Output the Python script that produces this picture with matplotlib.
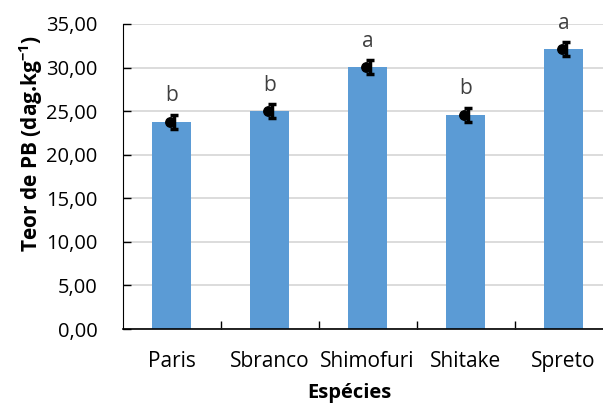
import matplotlib.pyplot as plt
import numpy as np

# Teor de proteína bruta por espécie
especies = ['Paris', 'Sbranco', 'Shimofuri', 'Shitake', 'Spreto']
teor_pb = [23.8, 25.0, 30.1, 24.6, 32.1]
erro = [0.8, 0.8, 0.8, 0.8, 0.8]
letras = ['b', 'b', 'a', 'b', 'a']
yticks = [0, 5, 10, 15, 20, 25, 30, 35]

plt.rcParams['font.family'] = ['Open Sans', 'DejaVu Sans']

fig = plt.figure(figsize=(6.03, 4.05), dpi=100)
ax = fig.add_axes([122.5 / 603, 1 - 329 / 405, 490 / 603, 305 / 405])

x = np.arange(len(especies))
ax.bar(x, teor_pb, width=0.4, color='#5b9bd5', zorder=2)
# barra de erro levemente deslocada, ponto da média à esquerda
ax.errorbar(x + 0.03, teor_pb, yerr=erro, fmt='none', ecolor='black',
            elinewidth=2.5, capsize=2.6, capthick=2.5, zorder=3)
ax.plot(x - 0.015, teor_pb, 'o', color='black', markersize=6.8, zorder=4)

for xi, v, e, l in zip(x, teor_pb, erro, letras):
    ax.annotate(l, (xi, v + e), xytext=(0, 9.5), textcoords='offset points',
                ha='center', va='baseline', fontsize=15, color='#404040')

ax.set_xlim(-0.5, len(especies) - 0.5)
ax.set_ylim(0, 35)
ax.set_yticks(yticks)
ax.set_yticklabels([f'{t:.2f}'.replace('.', ',') for t in yticks])
ax.set_xticks(x)
ax.set_xticklabels(especies)
ax.set_xticks(np.arange(len(especies) - 1) + 0.5, minor=True)
ax.tick_params(axis='y', direction='in', length=6, width=1, labelsize=14.5, pad=18)
ax.tick_params(axis='x', which='major', length=0, labelsize=15, pad=16)
ax.tick_params(axis='x', which='minor', direction='in', length=6, width=1)

ax.grid(axis='y', color='#d9d9d9', linewidth=1.3, zorder=0)
ax.set_axisbelow(True)
for s in ['top', 'right']:
    ax.spines[s].set_visible(False)
ax.spines['left'].set_color('black')
ax.spines['bottom'].set_color('black')
ax.spines['bottom'].set_linewidth(1.2)

ax.set_ylabel('Teor de PB (dag.kg$^{\\mathregular{-1}}$)', fontsize=15, fontweight='bold')
ax.yaxis.set_label_coords(-0.158, 0.607)
ax.set_xlabel('Espécies', fontsize=14.5, fontweight='bold')
ax.xaxis.set_label_coords(0.462, -0.177)

fig.savefig('out.png', dpi=100)
